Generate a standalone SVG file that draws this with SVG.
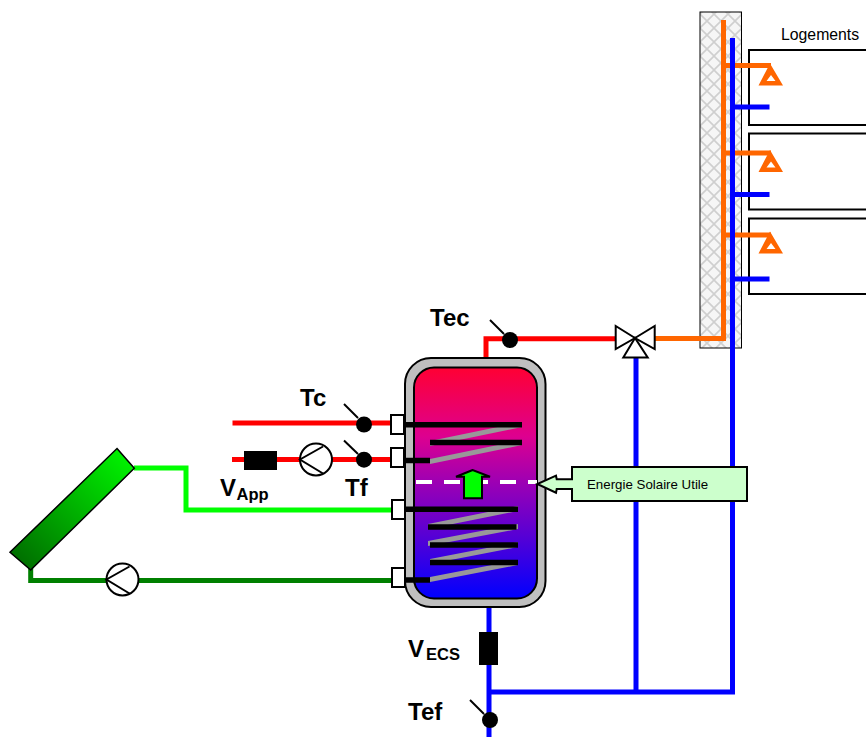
<svg xmlns="http://www.w3.org/2000/svg" width="866" height="737" viewBox="0 0 866 737">
<style>
text{font-family:"Liberation Sans",Arial,sans-serif;fill:#000}
.l{font-size:24px;font-weight:700}
.s{font-size:16.5px;font-weight:700}
.p{fill:none;stroke-width:5;stroke-linejoin:miter}
.red{stroke:#f00}.blue{stroke:#00f}.or{stroke:#f60}.lg{stroke:#0f0}.dg{stroke:#008000}
.k{stroke:#000;stroke-width:2}
.port{fill:#fff;stroke:#000;stroke-width:2}
.box{fill:#fff;stroke:#000;stroke-width:2}
.bar{fill:none;stroke:#000;stroke-width:5.5}
.grey{fill:#999}
.pump{fill:#fff;stroke:#000;stroke-width:2}
.pl{fill:none;stroke:#000;stroke-width:2}
</style>
<defs>
<linearGradient id="tank" x1="0" y1="0" x2="0" y2="1"><stop offset="0" stop-color="#ff0033"/><stop offset="0.3" stop-color="#dd0090"/><stop offset="0.5" stop-color="#9c00b4"/><stop offset="0.75" stop-color="#5000d8"/><stop offset="1" stop-color="#0000ff"/></linearGradient>
<linearGradient id="panel" gradientUnits="userSpaceOnUse" x1="125" y1="458" x2="20" y2="561"><stop offset="0" stop-color="#00f000"/><stop offset="1" stop-color="#007000"/></linearGradient>
<pattern id="hatch" width="14" height="14" patternUnits="userSpaceOnUse"><rect width="14" height="14" fill="#f6f6f6"/><path d="M0 0L14 14M14 0L0 14" stroke="#cfcfcf" stroke-width="1.6"/></pattern>
<g id="pumpR"><circle r="16" class="pump"/><path d="M7 -13L-16 0L7 14" class="pl"/></g>
<path id="robinet" d="M0 -22L13 0H-11.500ZM1 -10.500L-3.500 -4.500H5.500Z" fill="#f60" fill-rule="evenodd"/>
</defs>
<g id="gaine"><rect x="700" y="12" width="41.500" height="336" fill="url(#hatch)" stroke="#000" stroke-width="1"/></g>
<g id="logement1"><path d="M866 50H749V125H866" class="box"/></g>
<g id="logement2"><path d="M866 133.500H749V209.500H866" class="box"/></g>
<g id="logement3"><path d="M866 218.500H749V294H866" class="box"/></g>
<g id="connectors">
<path class="p or" d="M655 338.500H723.500V20"/>
<path class="p or" d="M723 65.500H771M723 153H771M723 235H771"/>
<path class="p blue" d="M732.500 38V692M489 607V737M489 692H735M636 358V692"/>
<path class="p blue" d="M733 107H769.500M733 194.500H769.500M733 279H769.500"/>
<path class="p red" d="M486 358V338.700H616"/>
<path class="p red" d="M232.500 423H391M232 459.500H391"/>
<path class="p lg" d="M134 468H186V510H391"/>
<path class="p dg" d="M30.700 565V580.500H391"/>
</g>
<g id="robinet1"><use href="#robinet" x="770" y="85.500"/></g>
<g id="robinet2"><use href="#robinet" x="770" y="172"/></g>
<g id="robinet3"><use href="#robinet" x="770" y="253.500"/></g>
<g id="logements-label"><text x="781" y="39.500" style="font-size:15.800px">Logements</text></g>
<g id="panneau"><path d="M117 448.500L134.300 468.300L30.700 570L10 552.300Z" fill="url(#panel)" stroke="#000" stroke-width="1.500"/></g>
<g id="pompe-solaire"><use href="#pumpR" x="122.500" y="579.500"/></g>
<g id="pompe-appoint"><use href="#pumpR" x="316" y="459.500"/></g>
<g id="v-app"><rect x="244" y="451" width="33" height="19" fill="#000"/><text x="220" y="496" class="l">V</text><text x="236.500" y="500" class="s">App</text></g>
<g id="v-ecs"><rect x="479" y="632" width="19" height="33" fill="#000"/><text x="408" y="656.500" class="l">V</text><text x="426" y="659.500" class="s">ECS</text></g>
<g id="ballon">
<rect x="405" y="358" width="140.500" height="249" rx="26" fill="#bfbfbf" stroke="#000" stroke-width="2"/>
<rect x="414" y="367.500" width="123" height="231" rx="20" fill="url(#tank)" stroke="#000" stroke-width="2"/>
<path class="grey" d="M430 459L522 440V445L430 464ZM430 441L522 422V427L430 446ZM430 577L518 560V565L430 582ZM430 559L518 542V547L430 564ZM428 541L518 524V529L428 546ZM428 524L518 506V511L428 529Z"/>
<path class="bar" d="M404 424.700H522M430 442.500H522M404 460.500H430M405 509.300H518M428 527H516.500M430 545H518M430 562.500H518M404 580H430"/>
<path d="M416 482H537" fill="none" stroke="#fff" stroke-width="4" stroke-dasharray="16 12"/>
<path d="M472.700 470L456 476.700H464V498.300H482V476.700H490Z" fill="#0f0" stroke="#000" stroke-width="2"/>
<rect x="391" y="415" width="13" height="19" class="port"/>
<rect x="391" y="448" width="13" height="19" class="port"/>
<rect x="392" y="500" width="13" height="19" class="port"/>
<rect x="392" y="568" width="13" height="19" class="port"/>
</g>
<g id="vanne"><path d="M635 338L615.700 326V349ZM635 338L654.700 326V349Z" fill="#fff" stroke="#000" stroke-width="2"/><path d="M635 338L623.300 357.500H647.700Z" fill="#fff" stroke="#000" stroke-width="2"/></g>
<g id="tc"><circle cx="364" cy="424.500" r="8" fill="#000"/><path d="M344 404L358 418" class="k"/><text x="300" y="406" class="l">Tc</text></g>
<g id="tf"><circle cx="364" cy="459.700" r="8" fill="#000"/><path d="M344 440.500L358 454" class="k"/><text x="345" y="496" class="l">Tf</text></g>
<g id="tec"><circle cx="510" cy="340" r="8" fill="#000"/><path d="M490 320L504 334" class="k"/><text x="430" y="325.500" class="l">Tec</text></g>
<g id="tef"><circle cx="490" cy="720" r="8" fill="#000"/><path d="M470 700L484 714" class="k"/><text x="408" y="720" class="l">Tef</text></g>
<g id="energie"><path d="M572 467H747V501H572V489H556.700L556 492.700L537.300 484L556 475.700L556.700 479.300H572Z" fill="#ccffcc" stroke="#000" stroke-width="2"/><text x="587" y="489" style="font-size:13.300px">Energie Solaire Utile</text></g>
</svg>
